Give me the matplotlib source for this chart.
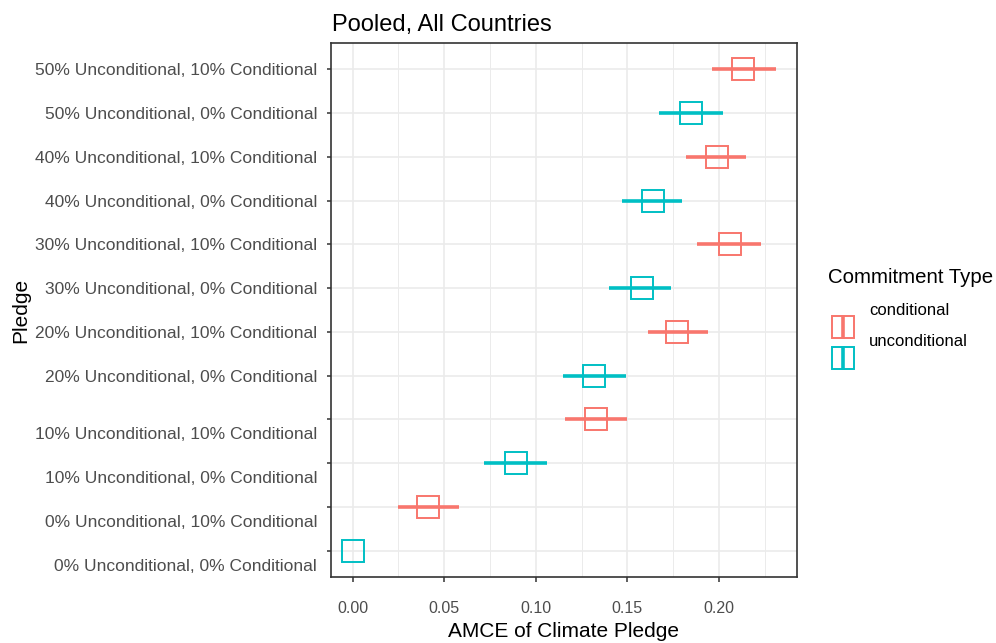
import matplotlib
matplotlib.use("Agg")
import matplotlib.pyplot as plt
import matplotlib.transforms as mtransforms
from matplotlib.lines import Line2D
from matplotlib.legend_handler import HandlerTuple
import numpy as np

plt.rcParams['font.family'] = ['Liberation Sans', 'DejaVu Sans']

# pledges from bottom to top
pledges = ["0% Unconditional, 0% Conditional", "0% Unconditional, 10% Conditional",
           "10% Unconditional, 0% Conditional", "10% Unconditional, 10% Conditional",
           "20% Unconditional, 0% Conditional", "20% Unconditional, 10% Conditional",
           "30% Unconditional, 0% Conditional", "30% Unconditional, 10% Conditional",
           "40% Unconditional, 0% Conditional", "40% Unconditional, 10% Conditional",
           "50% Unconditional, 0% Conditional", "50% Unconditional, 10% Conditional"]
commitment = ["unconditional", "conditional"] * 6
estimate = [0.0, 0.041, 0.089, 0.133, 0.132, 0.177, 0.158, 0.206, 0.164, 0.199, 0.185, 0.213]
lower = [0.0, 0.025, 0.072, 0.116, 0.115, 0.161, 0.140, 0.188, 0.147, 0.182, 0.167, 0.196]
upper = [0.0, 0.058, 0.106, 0.150, 0.149, 0.194, 0.174, 0.223, 0.180, 0.215, 0.202, 0.231]

colours = {"conditional": "#F8766D", "unconditional": "#00BFC4"}

fig = plt.figure(figsize=(9.96, 6.43), dpi=100)
ax = fig.add_axes([0.3323, 0.1026, 0.8002 - 0.3323, 0.9331 - 0.1026])

ypos = np.arange(1, len(pledges) + 1)

# grid (ggplot theme_bw style)
ax.set_axisbelow(True)
ax.set_xticks([0, 0.05, 0.10, 0.15, 0.20])
ax.set_xticks([0.025, 0.075, 0.125, 0.175, 0.225], minor=True)
ax.grid(which='major', color='#EBEBEB', linewidth=1.2)
ax.grid(which='minor', axis='x', color='#EBEBEB', linewidth=0.7)

for kind in ["conditional", "unconditional"]:
    idx = [i for i, c in enumerate(commitment) if c == kind]
    y = ypos[idx]
    est = np.array(estimate)[idx]
    lo = np.array(lower)[idx]
    hi = np.array(upper)[idx]
    ax.hlines(y, lo, hi, color=colours[kind], linewidth=2.6, zorder=3)
    ax.plot(est, y, linestyle='none', marker='s', markersize=15.3, markerfacecolor='none',
            markeredgecolor=colours[kind], markeredgewidth=1.4, zorder=4)

ax.set_xlim(-0.0118, 0.2426)
ax.set_ylim(0.4, len(pledges) + 0.6)
ax.set_yticks(ypos)
ax.set_yticklabels(pledges)
ax.set_xticklabels(["0.00", "0.05", "0.10", "0.15", "0.20"])

ax.tick_params(axis='both', which='major', colors='#333333', labelcolor='#4D4D4D', width=1.1)
ax.tick_params(axis='y', labelsize=12.5, length=3, pad=7)
ax.tick_params(axis='x', labelsize=11.5, length=3.6, pad=14)
ax.tick_params(axis='x', which='minor', length=0)
for s in ax.spines.values():
    s.set_color('#333333')
    s.set_linewidth(1.2)

# lower labels sit a bit below their ticks in the original
shift = mtransforms.ScaledTranslation(0, -14 / 100, fig.dpi_scale_trans)
for lab in ax.get_yticklabels()[:4]:
    lab.set_transform(lab.get_transform() + shift)

ax.set_title("Pooled, All Countries", loc='left', fontsize=17, pad=9, x=0.003)
ax.set_xlabel("AMCE of Climate Pledge", fontsize=15, labelpad=4)
ax.set_ylabel("Pledge", fontsize=15)
ax.yaxis.set_label_coords(-0.646, 0.5)

# legend
fig.text(828 / 996, 1 - 277 / 643, "Commitment Type", fontsize=14.7, va='center', ha='left')
handles = []
for kind in ["conditional", "unconditional"]:
    bar = Line2D([], [], linestyle='none', marker='|', markersize=17, markeredgewidth=2.6,
                 color=colours[kind])
    sq = Line2D([], [], linestyle='none', marker='s', markersize=15.3, markerfacecolor='none',
                markeredgecolor=colours[kind], markeredgewidth=1.4)
    handles.append((bar, sq))
leg = fig.legend(handles, ["conditional", "unconditional"],
                 handler_map={tuple: HandlerTuple(ndivide=1)},
                 loc='upper left', bbox_to_anchor=(831 / 996, 1 - 321 / 643),
                 frameon=False, fontsize=12, handlelength=1.4, borderpad=0,
                 labelspacing=0.98, handletextpad=0.9, borderaxespad=0)
lshift = mtransforms.ScaledTranslation(0, 18 / 100, fig.dpi_scale_trans)
for t in leg.get_texts():
    t.set_transform(t.get_transform() + lshift)

fig.savefig("out.png", dpi=100)
